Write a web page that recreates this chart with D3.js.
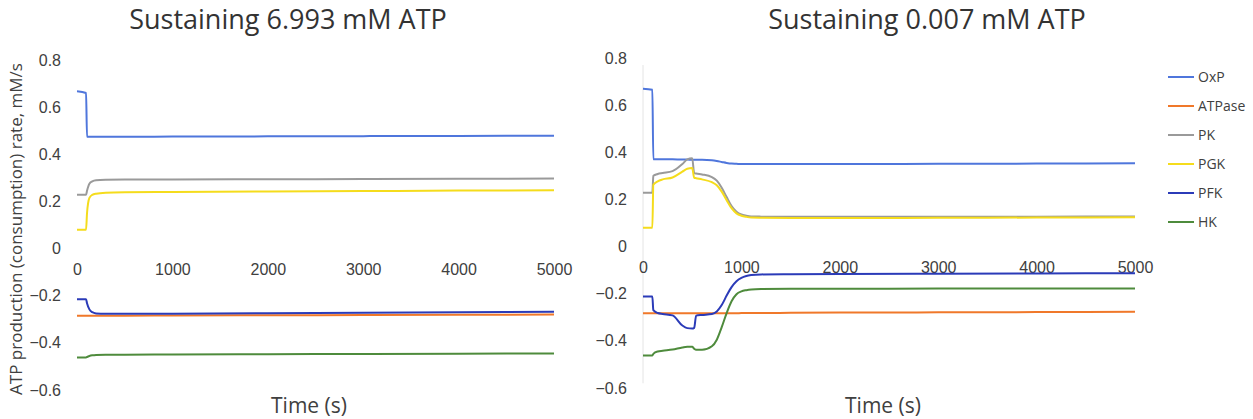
<!DOCTYPE html>
<html>
<head>
<meta charset="utf-8">
<script src="https://cdn.jsdelivr.net/npm/d3@7"></script>
<style>
  body { margin: 0; background: #fff; }
  svg { font-family: "Open Sans", "Noto Sans", sans-serif; }
</style>
</head>
<body>
<svg id="chart" width="1253" height="419"></svg>
<script>
const seriesNames = ['OxP', 'ATPase', 'PK', 'PGK', 'PFK', 'HK'];
const colors = ['#4f76dc', '#f0782a', '#9a9a9a', '#f5dc1c', '#2b3bb8', '#4e8b3c'];
const xTicks = [0, 1000, 2000, 3000, 4000, 5000];
const yTicks = [-0.6, -0.4, -0.2, 0, 0.2, 0.4, 0.6, 0.8];

// left panel: sustaining 6.993 mM ATP
const leftTime = [0, 95, 105, 130, 160, 200, 300, 500, 1000, 2000, 3000, 4000, 5000];
const leftOxP    = [0.667, 0.66, 0.474, 0.474, 0.474, 0.474, 0.474, 0.474, 0.475, 0.476, 0.477, 0.478, 0.479];
const leftATPase = [-0.285, -0.285, -0.285, -0.285, -0.285, -0.285, -0.285, -0.285, -0.284, -0.283, -0.282, -0.281, -0.28];
const leftPK     = [0.228, 0.228, 0.245, 0.275, 0.285, 0.29, 0.292, 0.293, 0.293, 0.294, 0.295, 0.296, 0.297];
const leftPGK    = [0.08, 0.08, 0.15, 0.215, 0.228, 0.233, 0.237, 0.239, 0.24, 0.242, 0.244, 0.246, 0.247];
const leftPFK    = [-0.215, -0.215, -0.232, -0.258, -0.27, -0.275, -0.277, -0.277, -0.276, -0.274, -0.272, -0.27, -0.268];
const leftHK     = [-0.462, -0.462, -0.46, -0.456, -0.453, -0.451, -0.45, -0.45, -0.449, -0.448, -0.447, -0.446, -0.445];

// right panel: sustaining 0.007 mM ATP
const rightTime = [0, 95, 105, 150, 200, 300, 400, 450, 500, 520, 540, 600, 700, 750, 800, 850, 900, 950, 1000, 1050, 1100, 1200, 1500, 2000, 3000, 4000, 5000];
const rightOxP    = [0.67, 0.665, 0.37, 0.37, 0.37, 0.37, 0.369, 0.369, 0.368, 0.368, 0.368, 0.368, 0.366, 0.363, 0.359, 0.355, 0.352, 0.351, 0.35, 0.35, 0.35, 0.35, 0.35, 0.35, 0.351, 0.352, 0.353];
const rightATPase = [-0.283, -0.283, -0.283, -0.283, -0.283, -0.283, -0.283, -0.283, -0.283, -0.283, -0.283, -0.283, -0.283, -0.283, -0.283, -0.283, -0.283, -0.283, -0.282, -0.282, -0.282, -0.282, -0.281, -0.28, -0.279, -0.278, -0.277];
const rightPK     = [0.228, 0.228, 0.3, 0.308, 0.312, 0.32, 0.35, 0.37, 0.375, 0.312, 0.31, 0.306, 0.295, 0.28, 0.25, 0.21, 0.172, 0.148, 0.136, 0.131, 0.128, 0.127, 0.126, 0.126, 0.126, 0.127, 0.128];
const rightPGK    = [0.08, 0.08, 0.262, 0.277, 0.285, 0.293, 0.318, 0.33, 0.333, 0.292, 0.29, 0.285, 0.273, 0.26, 0.233, 0.197, 0.163, 0.141, 0.131, 0.126, 0.123, 0.122, 0.121, 0.121, 0.122, 0.123, 0.124];
const rightPFK    = [-0.212, -0.212, -0.27, -0.282, -0.286, -0.292, -0.335, -0.346, -0.348, -0.345, -0.293, -0.29, -0.286, -0.275, -0.248, -0.208, -0.172, -0.147, -0.133, -0.125, -0.121, -0.118, -0.117, -0.116, -0.115, -0.114, -0.113];
const rightHK     = [-0.462, -0.462, -0.455, -0.445, -0.442, -0.437, -0.428, -0.425, -0.425, -0.433, -0.438, -0.438, -0.423, -0.395, -0.342, -0.282, -0.232, -0.202, -0.19, -0.185, -0.182, -0.18, -0.179, -0.179, -0.178, -0.178, -0.178];

const panels = [
  {
    title: 'Sustaining 6.993 mM ATP', titleX: 288, xLabelX: 309,
    time: leftTime,
    values: [leftOxP, leftATPase, leftPK, leftPGK, leftPFK, leftHK],
    xRange: [77, 554], yRange: [390, 60], yAxisLine: false
  },
  {
    title: 'Sustaining 0.007 mM ATP', titleX: 927, xLabelX: 883,
    time: rightTime,
    values: [rightOxP, rightATPase, rightPK, rightPGK, rightPFK, rightHK],
    xRange: [643, 1135], yRange: [388, 58], yAxisLine: true
  }
];

const svg = d3.select('#chart');
const textColor = '#404040';

panels.forEach(panel => {
  const scaleX = d3.scaleLinear().domain([0, 5000]).range(panel.xRange);
  const scaleY = d3.scaleLinear().domain([-0.6, 0.8]).range(panel.yRange);
  const g = svg.append('g');

  if (panel.yAxisLine) {
    g.append('line')
      .attr('x1', scaleX(0)).attr('x2', scaleX(0))
      .attr('y1', scaleY(0.77)).attr('y2', scaleY(-0.58))
      .attr('stroke', '#e4e4e4')
      .attr('stroke-width', 1);
  }

  // axes, no lines, just labels like the excel original
  const xAxis = d3.axisBottom(scaleX).tickValues(xTicks).tickSize(0).tickPadding(15)
    .tickFormat(d3.format('d'));
  const yAxis = d3.axisLeft(scaleY).tickValues(yTicks).tickSize(0).tickPadding(16)
    .tickFormat(d => d3.format('')(+d.toFixed(1)));

  const xg = g.append('g').attr('transform', `translate(0, ${scaleY(0)})`).call(xAxis);
  const yg = g.append('g').attr('transform', `translate(${scaleX(0)}, 0)`).call(yAxis);
  [xg, yg].forEach(a => {
    a.select('.domain').remove();
    a.selectAll('text').attr('fill', textColor).style('font-size', '16px');
  });

  const line = d3.line()
    .x((_, i) => scaleX(panel.time[i]))
    .y(d => scaleY(d))
    .curve(d3.curveMonotoneX);

  // draw ATPase first so the PFK line sits over it
  const order = [1, 0, 2, 3, 5, 4];
  order.forEach(k => {
    g.append('path')
      .datum(panel.values[k])
      .attr('fill', 'none')
      .attr('stroke', colors[k])
      .attr('stroke-width', 2)
      .attr('d', line);
  });

  g.append('text')
    .attr('x', panel.titleX).attr('y', 29)
    .attr('text-anchor', 'middle')
    .attr('fill', '#333')
    .style('font-size', '27px')
    .text(panel.title);

  g.append('text')
    .attr('x', panel.xLabelX).attr('y', 413)
    .attr('text-anchor', 'middle')
    .attr('fill', textColor)
    .style('font-size', '21px')
    .text('Time (s)');
});

svg.append('text')
  .attr('transform', 'translate(22, 229) rotate(-90)')
  .attr('text-anchor', 'middle')
  .attr('fill', textColor)
  .style('font-size', '17px')
  .text('ATP production (consumption) rate, mM/s');

// legend
const legendY = d3.scalePoint().domain(seriesNames).range([77, 222]);
const legend = svg.append('g');
seriesNames.forEach((name, i) => {
  legend.append('line')
    .attr('x1', 1168).attr('x2', 1194)
    .attr('y1', legendY(name)).attr('y2', legendY(name))
    .attr('stroke', colors[i]).attr('stroke-width', 2);
  legend.append('text')
    .attr('x', 1198).attr('y', legendY(name))
    .attr('dy', '0.35em')
    .attr('fill', textColor)
    .style('font-size', '14px')
    .text(name);
});
</script>
</body>
</html>
